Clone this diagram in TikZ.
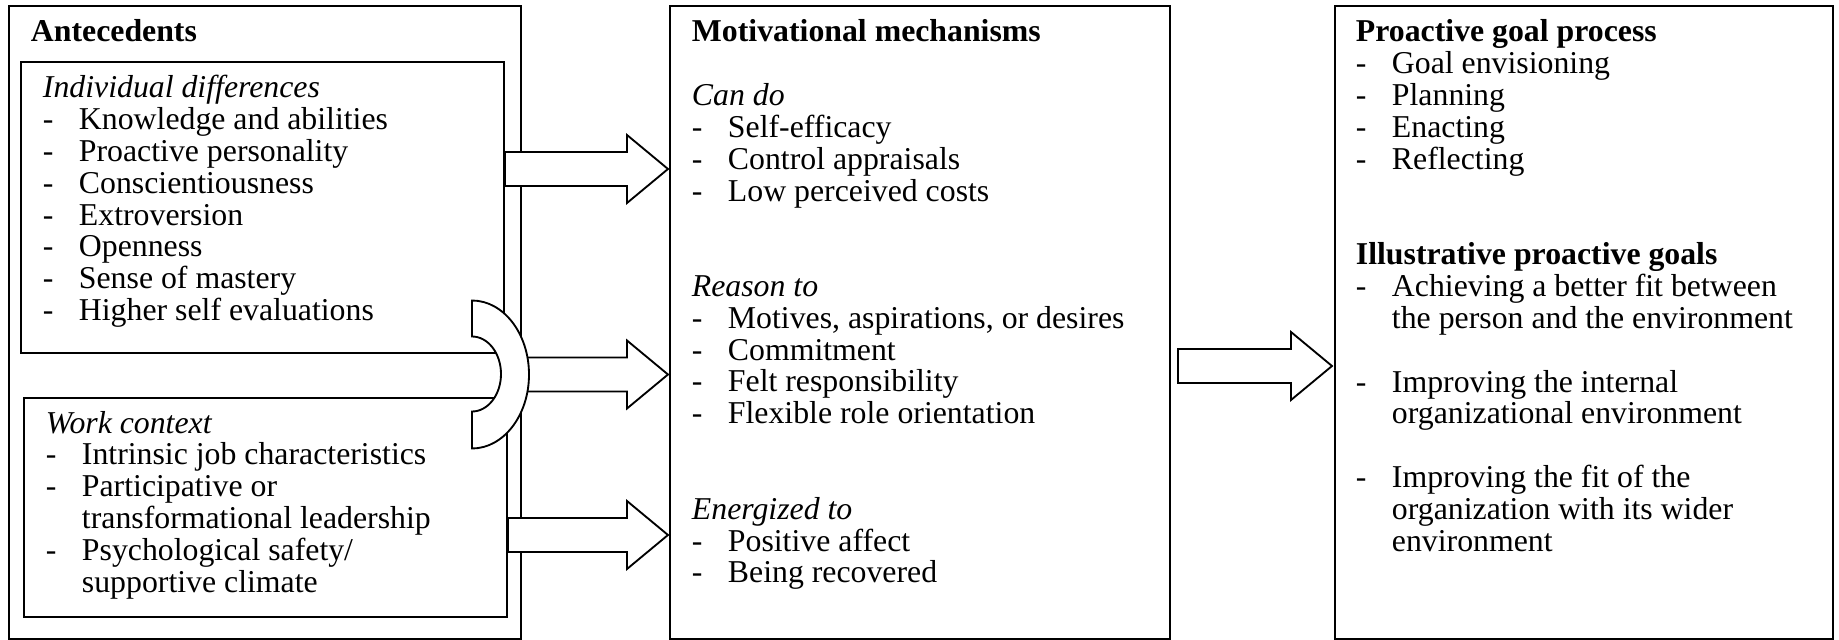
\documentclass[tikz,border=0pt]{standalone}
\usepackage{fontspec}
\setmainfont{Liberation Serif}
\usepackage{tikz}
\usetikzlibrary{calc,fit}
\newcommand{\pxu}{0.3774pt}
\newcommand{\head}[1]{\multicolumn{2}{@{}l@{}}{#1}}
\newenvironment{itemlist}{\begin{tabular}[t]{@{}p{13.6pt}@{}l@{}}}{\end{tabular}}
% block arrow: #1 start of the shaft, #2 tip (same height)
\newcommand{\blockarrow}[2]{%
  \draw[wide] ($(#1)+(0,-17)$) -- ($(#2)+(-41,-17)$) -- ($(#2)+(-41,-34)$) -- (#2)
    -- ($(#2)+(-41,34)$) -- ($(#2)+(-41,17)$) -- ($(#1)+(0,17)$) -- cycle;}

\begin{document}
\begin{tikzpicture}[x=\pxu, y=-\pxu, line width=0.7pt,
    box/.style={draw, inner sep=0pt},
    wide/.style={draw, fill=white, line join=miter},
    list/.style={anchor=base west, inner sep=0pt, font=\fontsize{12}{12}\selectfont}]
  \path[fill=white] (0,0) rectangle (1839,640);
  \useasboundingbox (0,0) rectangle (1839,640);

  % boxes
  \node[box, fit={(9,6) (521,639)}] (ante) {};
  \node[box, fit={(21,62) (504,353)}] (ind) {};
  \node[box, fit={(24,398) (507,617)}] (work) {};
  \node[box, fit={(670,6) (1170,639)}] (mech) {};
  \node[box, fit={(1335,6) (1833,639)}] (goal) {};

  % texts
  \node[list] (anteTitle) at (30,42) {\textbf{Antecedents}};
  \node[list] (indList) at (42,98) {\begin{itemlist}
    \head{\textit{Individual differences}}\\
    - & Knowledge and abilities\\
    - & Proactive personality\\
    - & Conscientiousness\\
    - & Extroversion\\
    - & Openness\\
    - & Sense of mastery\\
    - & Higher self evaluations
  \end{itemlist}};
  \node[list] (workList) at (45,433) {\begin{itemlist}
    \head{\textit{Work context}}\\
    - & Intrinsic job characteristics\\
    - & Participative or\\
      & transformational leadership\\
    - & Psychological safety/\\
      & supportive climate
  \end{itemlist}};
  \node[list] (mechList) at (691,42) {\begin{itemlist}
    \head{\textbf{Motivational mechanisms}}\\
    \head{}\\
    \head{\textit{Can do}}\\
    - & Self-efficacy\\
    - & Control appraisals\\
    - & Low perceived costs\\
    \head{}\\
    \head{}\\
    \head{\textit{Reason to}}\\
    - & Motives, aspirations, or desires\\
    - & Commitment\\
    - & Felt responsibility\\
    - & Flexible role orientation\\
    \head{}\\
    \head{}\\
    \head{\textit{Energized to}}\\
    - & Positive affect\\
    - & Being recovered
  \end{itemlist}};
  \node[list] (goalList) at (1355,42) {\begin{itemlist}
    \head{\textbf{Proactive goal process}}\\
    - & Goal envisioning\\
    - & Planning\\
    - & Enacting\\
    - & Reflecting\\
    \head{}\\
    \head{}\\
    \head{\textbf{Illustrative proactive goals}}\\
    - & Achieving a better fit between\\
      & the person and the environment\\
    \head{}\\
    - & Improving the internal\\
      & organizational environment\\
    \head{}\\
    - & Improving the fit of the\\
      & organization with its wider\\
      & environment
  \end{itemlist}};

  % arrows
  \coordinate (tipA) at (668,169);
  \coordinate (tipB) at (668,374.5);
  \coordinate (tipC) at (668,535);
  \coordinate (tipD) at (1332,366);
  \coordinate (startA) at (ind.east |- tipA);
  \coordinate (startB) at (ind.east |- tipB);
  \coordinate (startC) at (work.east |- tipC);
  \coordinate (startD) at ($(mech.east |- tipD)+(7,0)$);
  \blockarrow{startA}{tipA}
  \blockarrow{startB}{tipB}
  \blockarrow{startC}{tipC}
  \blockarrow{startD}{tipD}

  % half ring joining the two antecedent boxes
  \draw[wide] (472,300.5) arc[start angle=90, end angle=-90, x radius=57*\pxu, y radius=74*\pxu]
    -- (472,411.5) arc[start angle=-90, end angle=90, x radius=29*\pxu, y radius=37.5*\pxu] -- cycle;
\end{tikzpicture}
\end{document}
